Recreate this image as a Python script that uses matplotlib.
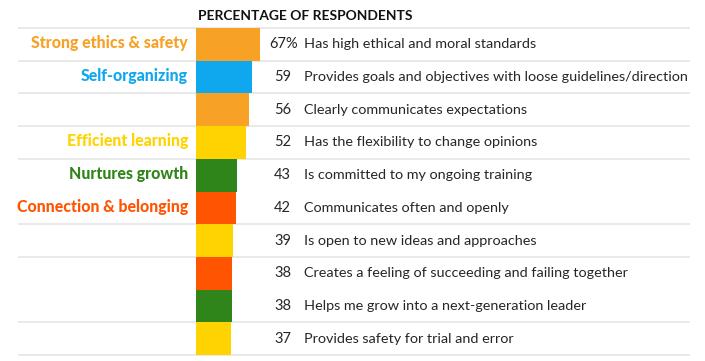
import matplotlib
matplotlib.use("Agg")
import matplotlib.pyplot as plt

values = [67, 59, 56, 52, 43, 42, 39, 38, 38, 37]
descriptions = [
    "Has high ethical and moral standards",
    "Provides goals and objectives with loose guidelines/direction",
    "Clearly communicates expectations",
    "Has the flexibility to change opinions",
    "Is committed to my ongoing training",
    "Communicates often and openly",
    "Is open to new ideas and approaches",
    "Creates a feeling of succeeding and failing together",
    "Helps me grow into a next-generation leader",
    "Provides safety for trial and error",
]
groups = ["ethics", "self", "ethics", "learning", "growth", "connection",
          "learning", "connection", "growth", "learning"]
group_labels = {
    0: "Strong ethics & safety",
    1: "Self-organizing",
    3: "Efficient learning",
    4: "Nurtures growth",
    5: "Connection & belonging",
}
group_colors = {
    "ethics": "#F7A125",
    "self": "#0FA8EE",
    "learning": "#FFD300",
    "growth": "#2F841A",
    "connection": "#FF5503",
}
title = "PERCENTAGE OF RESPONDENTS"
missing_separators = [5, 8]  # no line above these rows

W, H = 705, 361
fig = plt.figure(figsize=(W / 100, H / 100), dpi=100)
ax = fig.add_axes([0, 0, 1, 1])

# pixel geometry
px0 = 196.0          # bar base
ppu = 0.955          # pixels per unit
top = 28.0           # top separator
rh = 32.7            # row height

ax.set_xlim(-px0 / ppu, (W - px0) / ppu)
ax.set_ylim(-0.5 + (H - top) / rh, -0.5 - top / rh)
ax.axis("off")

def xd(px):
    return (px - px0) / ppu

n = len(values)
# separators
for i in range(n + 1):
    if i in missing_separators:
        continue
    ax.plot([xd(18), xd(690)], [i - 0.5, i - 0.5], color="#e3e3e3", lw=1.1, zorder=1,
            solid_capstyle="butt")

colors = [group_colors[g] for g in groups]
ax.barh(range(n), values, height=1.0, left=0, color=colors, zorder=2, linewidth=0)

txt_color = "#262626"
for i, (v, d) in enumerate(zip(values, descriptions)):
    if i == 0:
        ax.text(xd(298), i, f"{v}%", ha="right", va="center", fontsize=10.5,
                family="Lato", color=txt_color)
    else:
        ax.text(xd(291), i, str(v), ha="right", va="center", fontsize=10.5,
                family="Lato", color=txt_color)
    ax.text(xd(304), i, d, ha="left", va="center", fontsize=10.4,
            family="Lato", color=txt_color)

for i, lab in group_labels.items():
    ax.text(xd(188), i - 0.03, lab, ha="right", va="center", fontsize=11.4,
            family="Lato", weight="black", color=group_colors[groups[i]])

ax.text(xd(198), -0.5 - 12 / rh, title, ha="left", va="center", fontsize=9.9,
        family="Lato", weight="bold", color="#111111")

fig.savefig("out.png", dpi=100, facecolor="white")
